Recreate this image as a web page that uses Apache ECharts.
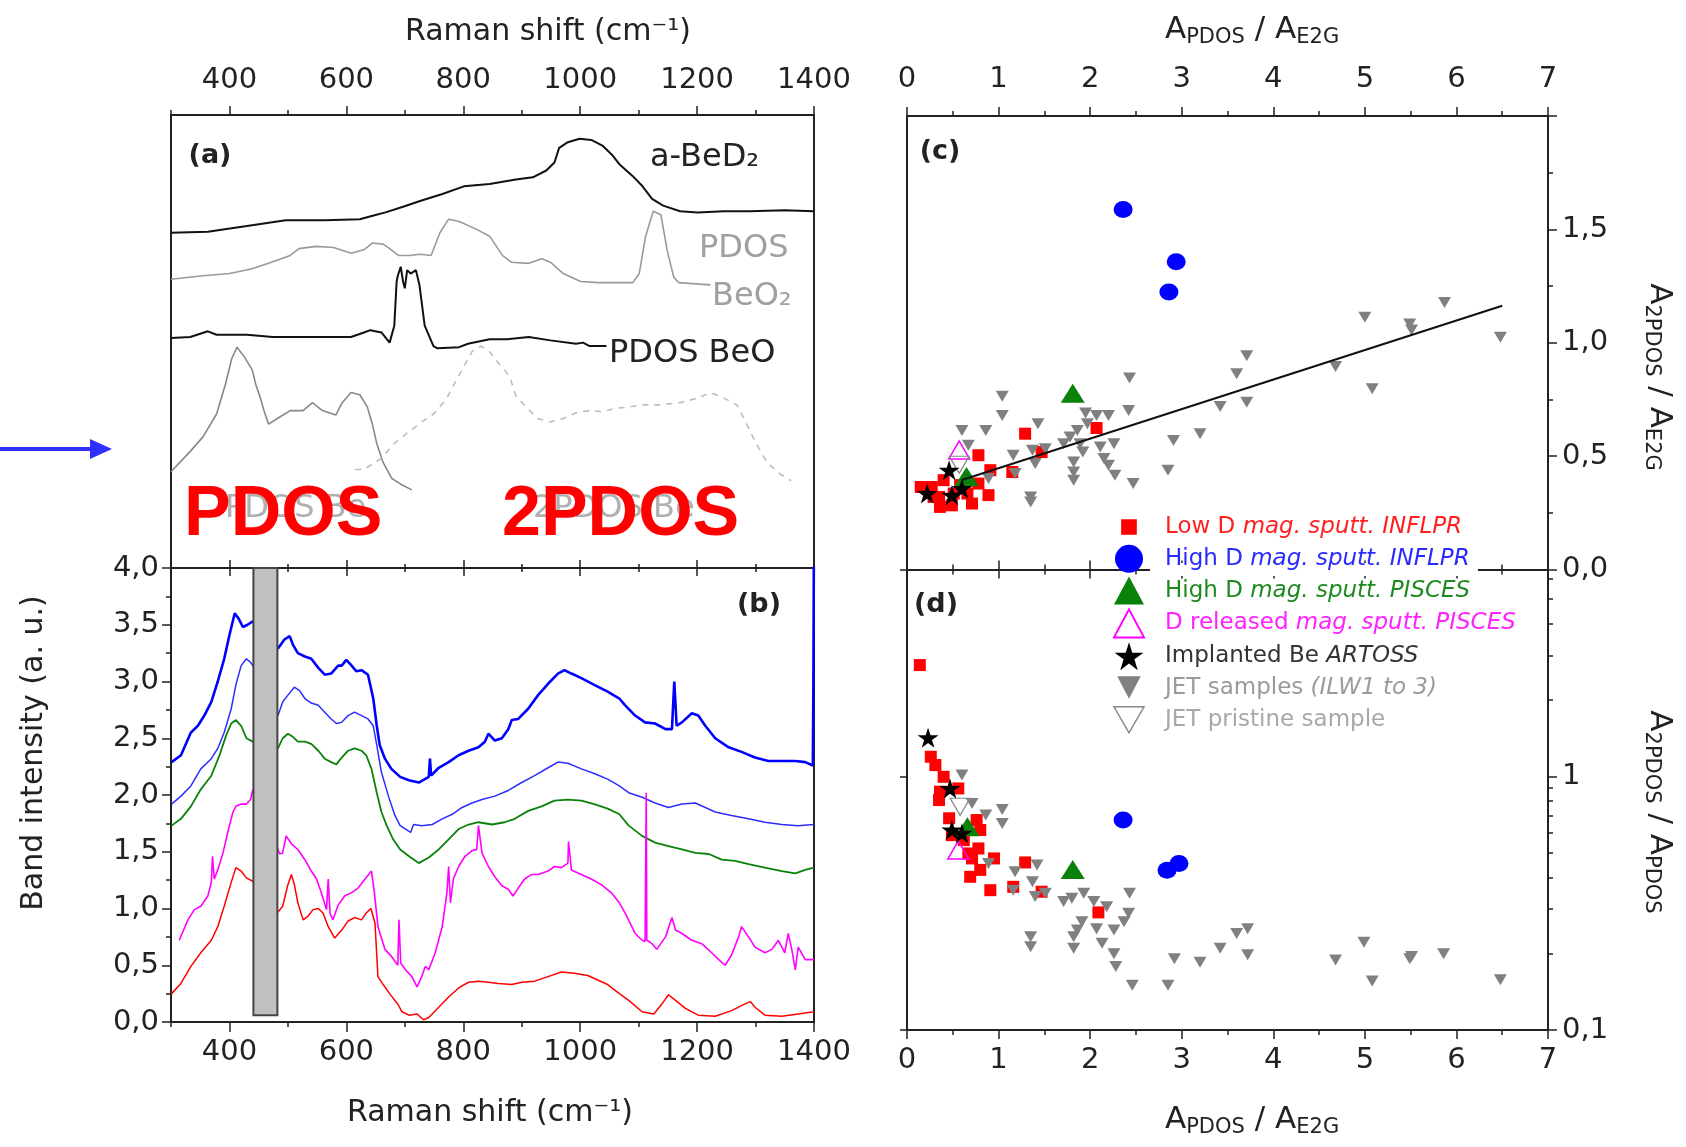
<!DOCTYPE html>
<html><head><meta charset="utf-8">
<script src="https://cdn.jsdelivr.net/npm/echarts@6/dist/echarts.min.js"></script>
<style>html,body{margin:0;padding:0;background:#fff}#c{width:1686px;height:1147px}</style>
</head><body><div id="c"></div>
<script>
// ---------- Panel (a): reference spectra (Raman shift, arbitrary offset intensity) ----------
const aBeD2X = [300,363,430,496,563,623,645,667,697,726,763,801,845,890,919,942,956,964,979,999,1019,1038,1056,1068,1090,1105,1123,1142,1171,1201,1246,1290,1350,1400];
const aBeD2Y = [2.96,2.97,3.02,3.07,3.07,3.08,3.11,3.14,3.19,3.24,3.30,3.37,3.39,3.43,3.45,3.51,3.58,3.71,3.76,3.79,3.78,3.73,3.64,3.56,3.46,3.38,3.26,3.20,3.15,3.14,3.15,3.15,3.16,3.15];
const pdosBeO2X = [300,355,400,437,467,504,519,548,578,608,630,645,663,674,689,708,726,745,760,775,793,823,845,867,882,912,934,949,971,1001,1031,1090,1101,1112,1125,1138,1149,1160,1168,1223];
const pdosBeO2Y = [2.55,2.58,2.60,2.64,2.69,2.76,2.82,2.84,2.83,2.78,2.81,2.87,2.86,2.82,2.76,2.76,2.77,2.76,2.96,3.08,3.06,2.99,2.93,2.76,2.70,2.69,2.73,2.70,2.60,2.53,2.52,2.52,2.60,2.93,3.15,3.12,2.80,2.57,2.52,2.50];
const pdosBeOX = [300,333,363,378,430,474,526,578,608,630,641,660,674,682,686,688,693,697,700,704,710,719,725,734,749,756,793,808,845,875,912,949,993,1005,1016,1045];
const pdosBeOY = [2.03,2.04,2.09,2.06,2.06,2.04,2.04,2.04,2.04,2.08,2.10,2.08,1.99,2.14,2.53,2.58,2.66,2.53,2.47,2.63,2.60,2.63,2.50,2.14,1.96,1.94,1.95,1.98,2.02,2.02,2.04,2.01,1.98,1.99,1.96,1.96];
const pdosBeX = [300,333,355,378,393,404,413,426,439,445,453,459,467,482,504,526,542,559,582,593,608,623,636,645,652,663,678,693,712];
const pdosBeY = [0.85,1.03,1.16,1.36,1.62,1.85,1.95,1.86,1.75,1.62,1.50,1.39,1.27,1.32,1.39,1.39,1.46,1.39,1.35,1.46,1.55,1.53,1.42,1.26,1.10,0.93,0.79,0.74,0.69];
const twoPdosX = [615,630,660,682,704,726,749,771,786,801,815,830,845,860,875,882,890,904,927,949,971,993,1016,1038,1060,1082,1105,1134,1171,1201,1223,1246,1268,1283,1301,1320,1342,1361];
const twoPdosY = [0.87,0.87,0.97,1.10,1.19,1.28,1.36,1.49,1.64,1.78,1.91,1.96,1.91,1.81,1.72,1.65,1.52,1.44,1.32,1.29,1.32,1.37,1.39,1.38,1.41,1.42,1.44,1.44,1.46,1.50,1.55,1.50,1.44,1.29,1.10,0.93,0.83,0.77];

// ---------- Panel (b): measured spectra ----------
const blue1X = [301,317,334,346,357,369,380,391,400,409,415,423,431,440,483,494,503,509,517,529,540,552,563,574,586,592,600,609,617,626,637,646,652,657,666,677,692,707,724,741,743,745,758,775,792,809,826,837,843,854,866,877,883,894,911,928,945,962,973,985,1002,1024,1047,1067,1077,1094,1111,1128,1146,1157,1161,1165,1174,1191,1202,1214,1231,1254,1276,1299,1322,1345,1368,1385,1398,1399,1400];
const blue1Y = [2.29,2.35,2.55,2.61,2.70,2.82,3.00,3.20,3.41,3.60,3.56,3.48,3.50,3.53,3.29,3.37,3.40,3.32,3.25,3.22,3.20,3.12,3.06,3.07,3.14,3.14,3.19,3.14,3.09,3.10,3.06,2.85,2.61,2.44,2.32,2.23,2.16,2.13,2.11,2.16,2.32,2.17,2.24,2.29,2.35,2.39,2.42,2.47,2.54,2.48,2.50,2.58,2.66,2.67,2.76,2.88,2.98,3.07,3.10,3.07,3.03,2.97,2.91,2.85,2.79,2.70,2.64,2.63,2.58,2.58,3.00,2.61,2.64,2.72,2.70,2.61,2.50,2.42,2.38,2.33,2.30,2.30,2.30,2.29,2.26,3.01,4.5];
const blue2X = [301,317,334,351,369,380,391,403,411,420,429,436,440,483,491,500,511,520,529,540,552,563,574,583,592,603,614,626,637,646,652,660,672,683,692,710,715,729,747,764,781,798,815,832,854,877,900,922,945,962,979,1002,1024,1047,1067,1083,1106,1128,1151,1174,1197,1214,1231,1259,1288,1316,1345,1373,1400];
const blue2Y = [1.92,1.99,2.08,2.23,2.32,2.41,2.55,2.76,2.97,3.14,3.20,3.17,3.14,2.70,2.82,2.88,2.95,2.92,2.85,2.81,2.79,2.73,2.67,2.63,2.64,2.70,2.73,2.70,2.67,2.61,2.44,2.20,1.99,1.82,1.73,1.67,1.74,1.73,1.74,1.79,1.83,1.89,1.93,1.96,1.99,2.04,2.11,2.17,2.24,2.29,2.28,2.23,2.19,2.14,2.08,2.02,1.98,1.93,1.89,1.92,1.93,1.89,1.85,1.82,1.79,1.76,1.74,1.73,1.74];
const greenX = [301,317,334,351,369,383,394,403,411,420,429,440,483,491,500,509,517,529,540,552,563,574,583,592,603,614,626,634,643,652,660,669,680,692,710,724,741,758,775,792,809,826,849,871,888,911,934,956,979,1002,1024,1047,1067,1083,1106,1128,1151,1174,1197,1220,1242,1265,1288,1316,1345,1368,1385,1400];
const greenY = [1.73,1.79,1.90,2.05,2.17,2.35,2.52,2.63,2.66,2.61,2.50,2.47,2.41,2.50,2.54,2.51,2.47,2.47,2.45,2.39,2.32,2.29,2.27,2.33,2.39,2.41,2.39,2.35,2.23,2.02,1.85,1.73,1.61,1.52,1.45,1.40,1.45,1.52,1.61,1.70,1.74,1.76,1.74,1.76,1.79,1.86,1.90,1.95,1.96,1.95,1.92,1.88,1.83,1.73,1.64,1.58,1.55,1.52,1.49,1.48,1.43,1.42,1.39,1.36,1.33,1.31,1.34,1.36];
const magX = [314,329,340,351,363,369,371,374,380,389,
397,406,411,420,429,436,440,486,491,497,
506,517,529,540,549,557,566,569,572,577,
586,597,609,620,632,643,648,654,666,677,
688,690,693,701,712,721,729,735,741,752,
764,772,775,778,783,792,803,815,823,826,
832,843,854,866,877,885,894,905,917,928,
945,956,968,979,980,985,1002,1019,1036,1053,
1067,1077,1094,1106,1111,1113,1114,1123,1131,1146,
1157,1163,1174,1191,1208,1225,1237,1248,1259,1271,
1276,1288,1299,1316,1328,1339,1350,1356,1362,1368,
1373,1385,1400];
const magY = [0.72,0.90,0.99,1.02,1.11,1.23,1.46,1.26,1.34,1.49,
1.67,1.85,1.90,1.92,1.92,1.96,2.05,1.48,1.49,1.64,
1.57,1.52,1.43,1.33,1.26,1.14,0.99,1.26,0.96,0.90,
1.03,1.11,1.14,1.18,1.26,1.33,1.14,0.84,0.64,0.58,
0.50,0.90,0.52,0.46,0.40,0.31,0.40,0.49,0.46,0.61,
0.84,1.14,1.37,1.05,1.26,1.37,1.46,1.51,1.52,1.73,
1.49,1.37,1.28,1.20,1.17,1.11,1.18,1.26,1.30,1.30,
1.33,1.37,1.36,1.40,1.59,1.34,1.30,1.26,1.21,1.14,
1.05,0.96,0.78,0.72,0.71,2.02,0.72,0.69,0.64,0.75,
0.92,0.81,0.78,0.72,0.69,0.61,0.55,0.50,0.59,0.75,
0.84,0.75,0.66,0.61,0.64,0.72,0.61,0.78,0.64,0.46,
0.66,0.55,0.55];
const redX = [301,317,334,351,369,380,391,403,411,420,
429,440,483,491,500,506,511,517,526,534,
543,552,560,569,580,592,603,614,626,634,
642,649,654,663,674,689,695,707,721,732,
741,758,775,792,809,826,843,860,883,900,
922,945,968,990,1013,1030,1047,1067,1083,1106,
1126,1140,1151,1163,1180,1202,1231,1259,1282,1291,
1299,1316,1345,1373,1400];
const redY = [0.25,0.34,0.49,0.61,0.72,0.84,1.02,1.23,1.36,1.33,
1.27,1.24,0.97,1.02,1.21,1.30,1.21,1.05,0.90,0.93,
0.99,1.00,0.96,0.84,0.74,0.81,0.89,0.92,0.90,0.96,
1.00,0.87,0.40,0.33,0.25,0.15,0.09,0.06,0.07,0.02,
0.04,0.13,0.22,0.30,0.35,0.36,0.35,0.34,0.33,0.35,
0.36,0.40,0.44,0.43,0.41,0.37,0.33,0.25,0.19,0.09,
0.07,0.16,0.24,0.19,0.12,0.06,0.05,0.10,0.16,0.18,
0.13,0.06,0.05,0.07,0.09];
const rectX = [441, 482];
const rectY = [0.06, 4.0];

// ---------- Panels (c) and (d): ratios ----------
const redCX = [0.15,0.27,0.35,0.36,0.49,0.71,0.66,0.78,0.89,0.51,0.40,0.29,0.58,0.78,0.91,1.15,1.29,1.47,2.07];
const redCY = [0.364,0.364,0.320,0.276,0.283,0.291,0.335,0.379,0.328,0.335,0.394,0.320,0.372,0.504,0.438,0.430,0.599,0.518,0.624];
const redDX = [0.14,0.26,0.31,0.40,0.36,0.35,0.46,0.56,0.76,0.80,0.78,0.71,0.80,0.69,0.95,0.91,1.29,1.16,1.47,2.09,0.49,0.62,0.67];
const redDY = [2.75,1.196,1.109,0.997,0.871,0.807,0.684,0.897,0.673,0.615,0.520,0.475,0.428,0.402,0.475,0.356,0.458,0.367,0.351,0.291,0.587,0.561,0.497];
const blueCX = [2.36,2.94,2.86];
const blueCY = [1.588,1.357,1.224];
const blueDX = [2.36,2.97,2.84];
const blueDY = [0.673,0.454,0.427];
const greenCX = [1.81,0.65];
const greenCY = [0.777,0.41];
const greenDX = [1.81,0.66];
const greenDY = [0.430,0.633];
const magCX = [0.57];
const magCY = [0.527];
const magDX = [0.56];
const magDY = [0.513];
const starCX = [0.22,0.46,0.49,0.60];
const starCY = [0.335,0.438,0.328,0.357];
const starDX = [0.23,0.47,0.49,0.60];
const starDY = [1.42,0.897,0.615,0.597];
const grayCX = [1.04,1.04,0.60,0.86,1.43,2.43,2.42,1.95,2.07,2.20,
1.97,1.86,1.78,1.71,1.89,0.67,1.16,1.37,1.51,2.26,
2.11,1.92,2.15,2.20,2.27,2.47,1.82,1.82,1.82,1.40,
1.18,0.89,1.35,1.35,2.91,3.20,2.85,3.42,3.60,3.71,
3.71,5.87,5.00,5.49,5.51,6.48,4.68,5.08];
const grayCY = [0.764,0.679,0.613,0.613,0.643,0.844,0.701,0.690,0.679,0.679,
0.643,0.613,0.584,0.555,0.555,0.548,0.504,0.526,0.533,0.555,
0.540,0.518,0.489,0.460,0.416,0.379,0.474,0.430,0.394,0.467,
0.423,0.401,0.320,0.298,0.569,0.599,0.438,0.719,0.863,0.943,
0.738,1.178,1.112,1.083,1.056,1.024,0.895,0.797];
const grayDX = [0.60,0.71,0.86,1.04,1.04,0.89,1.18,1.42,1.37,1.40,
1.16,1.51,1.71,1.80,1.93,2.04,2.18,2.43,2.42,1.91,
1.86,1.82,2.07,2.26,2.37,2.13,2.26,1.82,1.35,1.35,
3.60,3.42,2.28,2.46,2.85,2.92,3.20,3.72,3.72,4.68,
4.99,5.08,5.49,5.51,5.86,6.48];
const grayDY = [1.013,0.783,0.705,0.741,0.653,0.454,0.421,0.447,0.384,0.336,
0.356,0.346,0.321,0.331,0.346,0.321,0.306,0.346,0.289,0.267,
0.248,0.233,0.251,0.248,0.267,0.220,0.200,0.210,0.233,0.213,
0.240,0.210,0.178,0.150,0.150,0.191,0.185,0.251,0.198,0.189,
0.222,0.156,0.191,0.195,0.200,0.158];
const pristCX = [0.57];
const pristCY = [0.462];
const pristDX = [0.58];
const pristDY = [0.759];
const fitX = [0.6, 6.5];
const fitY = [0.395, 1.163];

// tick values
const ramanMajor = [400,600,800,1000,1200,1400];
const ramanMinor = [300,500,700,900,1100,1300];
const logMinor = [0.2,0.3,0.4,0.5,0.6,0.7,0.8,0.9,2,3,4,5,6];

// ---------- build ----------
const FONT = 'DejaVu Sans';
const AX = '#222';
const zip = (xs, ys) => xs.map((x, i) => [x, ys[i]]);
const comma = v => v.toFixed(1).replace('.', ',');
const plain = v => String(v);

function ramanAxis(grid, pos, vals, len, inside, label, line, margin) {
  return {type:'value', gridIndex:grid, position:pos, min:300, max:1400, interval:100,
    splitLine:{show:false},
    axisLine:{show:line, onZero:false, lineStyle:{color:AX, width:2}},
    axisTick:{show:true, inside:inside, length:len, customValues:vals, lineStyle:{color:AX, width:1.5}},
    axisLabel:{show:label, customValues:vals, margin:margin||8, fontSize:29, color:AX, fontFamily:FONT, formatter:plain}};
}
function ratioAxis(grid, pos, inside, label, margin) {
  return {type:'value', gridIndex:grid, position:pos, min:0, max:7, interval:1,
    splitLine:{show:false},
    axisLine:{show:true, onZero:false, lineStyle:{color:AX, width:2}},
    axisTick:{show:true, inside:inside, length:9, lineStyle:{color:AX, width:1.5}},
    minorTick:{show:true, splitNumber:2, length:5, lineStyle:{color:AX, width:1.5}},
    axisLabel:{show:label, margin:margin||8, fontSize:29, color:AX, fontFamily:FONT, formatter:plain}};
}
function frameY(grid, pos, min, max, type) {
  const o = {type:type||'value', gridIndex:grid, position:pos, min:min, max:max,
    splitLine:{show:false},
    axisLine:{show:true, onZero:false, lineStyle:{color:AX, width:2}},
    axisTick:{show:false}, axisLabel:{show:false}, minorTick:{show:false}};
  if (type === 'log') o.logBase = 10;
  return o;
}

const STAR = 'path://M50,2 L61,37 L98,37 L68,59 L79,95 L50,73 L21,95 L32,59 L2,37 L39,37 Z';
const INV = 'path://M0,0 L100,0 L50,87 Z';
const INV_PAD = 'path://M0,0 L0.1,0 Z M100,100 L100.1,100 Z M8,8 L92,8 L50,88 Z';
const SQ_PAD = 'path://M0,0 L0.1,0 Z M100,100 L100.1,100 Z M22,22 L78,22 L78,78 L22,78 Z';

const N = {
  low:'Low D mag. sputt. INFLPR', high:'High D mag. sputt. INFLPR', pis:'High D mag. sputt. PISCES',
  rel:'D released mag. sputt. PISCES', imp:'Implanted Be ARTOSS', jet:'JET samples (ILW1 to 3)', pri:'JET pristine sample'
};
const richLabel = {};
richLabel[N.low] = '{g| }{u|Low D }{i|mag. sputt. INFLPR}';
richLabel[N.high] = '{g| }{u|High D }{i|mag. sputt. INFLPR}';
richLabel[N.pis] = '{g| }{u|High D }{i|mag. sputt. PISCES}';
richLabel[N.rel] = '{g| }{u|D released }{i|mag. sputt. PISCES}';
richLabel[N.imp] = '{g| }{u|Implanted Be }{i|ARTOSS}';
richLabel[N.jet] = '{g| }{u|JET samples }{i|(ILW1 to 3)}';
richLabel[N.pri] = '{g| }{u|JET pristine sample}';
const legRich = {g:{width:16, fontSize:23}, u:{fontSize:23, fontFamily:FONT}, i:{fontSize:23, fontFamily:FONT, fontStyle:'italic'}};
function legItem(name, color, icon, itemStyle) {
  const o = {name:name, textStyle:{color:color, fontSize:23, fontFamily:FONT, lineHeight:28, rich:legRich}};
  if (icon) o.icon = icon;
  if (itemStyle) o.itemStyle = itemStyle;
  return o;
}

const styles = {
  low:{sym:'rect', size:12, it:{color:'#ff0000', opacity:1}},
  high:{sym:'circle', size:[19,17], it:{color:'#0000ff', opacity:1}},
  pis:{sym:'triangle', size:[24,19], it:{color:'#0a820a', opacity:1}},
  rel:{sym:'triangle', size:[21,18], it:{color:'rgba(255,255,255,0)', borderColor:'#ff00ff', borderWidth:1.5, opacity:1}},
  imp:{sym:STAR, size:[21,20], it:{color:'#000', opacity:1}},
  jet:{sym:INV, size:[13,11], it:{color:'#808080', opacity:1}},
  pri:{sym:INV, size:[20,17], it:{color:'rgba(255,255,255,0)', borderColor:'#888', borderWidth:1.2, opacity:1}}
};
function sc(key, xs, ys, xi, yi, z) {
  const s = styles[key];
  return {type:'scatter', name:N[key], xAxisIndex:xi, yAxisIndex:yi, data:zip(xs, ys),
    symbol:s.sym, symbolSize:s.size, itemStyle:s.it, z:z, silent:true};
}
function ln(name, xs, ys, xi, yi, color, w, type) {
  return {type:'line', name:name, xAxisIndex:xi, yAxisIndex:yi, data:zip(xs, ys), showSymbol:false,
    symbol:'none', lineStyle:{color:color, width:w, type:type||'solid'}, silent:true, z:2};
}

function txt(x, y, text, font, fill, align, extra) {
  const st = {text:text, x:0, y:0, font:font, fill:fill, align:align||'left', verticalAlign:'middle',
    textAlign:align||'left', textVerticalAlign:'middle'};
  const el = {type:'text', x:x, y:y, z:50, style:st, silent:true};
  if (extra) Object.assign(el, extra);
  return el;
}
const ttlRichC = {a:{fontSize:31, fontFamily:FONT, fill:AX, lineHeight:36},
                  s:{fontSize:21, fontFamily:FONT, fill:AX, lineHeight:20, padding:[16,0,0,0]}};
function richTxt(x, y, text, rot, align) {
  return {type:'text', x:x, y:y, rotation:rot||0, z:50, silent:true,
    style:{text:text, rich:ttlRichC, x:0, y:0, align:align||'left', verticalAlign:'middle',
      textAlign:align||'left', textVerticalAlign:'middle', fill:AX, fontSize:31, fontFamily:FONT}};
}

const option = {
  animation:false,
  backgroundColor:'#ffffff',
  textStyle:{fontFamily:FONT},
  grid:[
    {left:171, top:115, width:643, height:453},
    {left:171, top:568, width:643, height:454},
    {left:907, top:116, width:641, height:453.5},
    {left:907, top:569.5, width:641, height:460.5}
  ],
  xAxis:[
    ramanAxis(0,'top',ramanMajor,9,false,true,true,20),
    ramanAxis(0,'top',ramanMinor,5,false,false,false),
    ramanAxis(0,'bottom',ramanMajor,8,true,false,true),
    ramanAxis(0,'bottom',ramanMinor,4,true,false,false),
    ramanAxis(1,'top',ramanMajor,8,true,false,true),
    ramanAxis(1,'top',ramanMinor,4,true,false,false),
    ramanAxis(1,'bottom',ramanMajor,10,false,true,true,16),
    ramanAxis(1,'bottom',ramanMinor,5,false,false,false),
    ratioAxis(2,'top',false,true,22),
    ratioAxis(2,'bottom',true,false),
    ratioAxis(3,'top',true,false),
    ratioAxis(3,'bottom',false,true,16)
  ],
  yAxis:[
    frameY(0,'left',0,4),
    frameY(0,'right',0,4),
    {type:'value', gridIndex:1, position:'left', min:0, max:4, interval:0.5, splitLine:{show:false},
      axisLine:{show:true, onZero:false, lineStyle:{color:AX, width:2}},
      axisTick:{show:true, length:9, lineStyle:{color:AX, width:1.5}},
      minorTick:{show:true, splitNumber:2, length:5, lineStyle:{color:AX, width:1.5}},
      axisLabel:{margin:12, fontSize:29, color:AX, fontFamily:FONT, formatter:comma}},
    frameY(1,'right',0,4),
    frameY(2,'left',0,2),
    {type:'value', gridIndex:2, position:'right', min:0, max:2, interval:0.5, splitLine:{show:false},
      axisLine:{show:true, onZero:false, lineStyle:{color:AX, width:2}},
      axisTick:{show:true, length:9, lineStyle:{color:AX, width:1.5}},
      minorTick:{show:true, splitNumber:2, length:5, lineStyle:{color:AX, width:1.5}},
      axisLabel:{margin:14, fontSize:29, color:AX, fontFamily:FONT, formatter:v => v > 1.99 ? '' : comma(v)}},
    {type:'log', logBase:10, gridIndex:3, position:'left', min:0.1, max:6.55, splitLine:{show:false},
      axisLine:{show:true, onZero:false, lineStyle:{color:AX, width:2}},
      axisTick:{show:true, length:7, lineStyle:{color:AX, width:1.5}},
      axisLabel:{show:false}},
    {type:'log', logBase:10, gridIndex:3, position:'right', min:0.1, max:6.55, splitLine:{show:false},
      axisLine:{show:true, onZero:false, lineStyle:{color:AX, width:2}},
      axisTick:{show:true, length:9, lineStyle:{color:AX, width:1.5}},
      axisLabel:{margin:14, fontSize:29, color:AX, fontFamily:FONT,
        formatter:v => Math.abs(v - 1) < 1e-6 ? '1' : (Math.abs(v - 0.1) < 1e-6 ? '0,1' : '')}},
    {type:'log', logBase:10, gridIndex:3, position:'right', min:0.1, max:6.55, splitLine:{show:false},
      axisLine:{show:false, onZero:false},
      axisTick:{show:true, length:5, customValues:logMinor, lineStyle:{color:AX, width:1.5}},
      axisLabel:{show:false}}
  ],
  legend:{
    orient:'vertical', left:1108, top:508, itemWidth:30, itemHeight:28, itemGap:3.8, z:10,
    selectedMode:false,
    textStyle:{fontSize:23, fontFamily:FONT, lineHeight:28, rich:legRich},
    formatter:name => richLabel[name],
    data:[
      legItem(N.low, '#ff2020', SQ_PAD, {color:'#ff0000'}),
      legItem(N.high, '#2a2aff', null, {color:'#0000ff'}),
      legItem(N.pis, '#1f8a1f', null, {color:'#0a820a'}),
      legItem(N.rel, '#ff22ff', null, {color:'rgba(255,255,255,0)', borderColor:'#ff00ff', borderWidth:2}),
      legItem(N.imp, '#333333', null, {color:'#000'}),
      legItem(N.jet, '#9a9a9a', INV_PAD, {color:'#808080'}),
      legItem(N.pri, '#a8a8a8', INV, {color:'rgba(255,255,255,0)', borderColor:'#888', borderWidth:1.5})
    ]
  },
  graphic:{elements:[
    {type:'rect', z:3, silent:true, shape:{x:1150, y:563, width:328, height:13}, style:{fill:'#fff'}},
    {type:'line', z:50, silent:true, shape:{x1:0, y1:449, x2:94, y2:449}, style:{stroke:'#2f2fff', lineWidth:4}},
    {type:'polygon', z:50, silent:true, shape:{points:[[90,439],[112,449],[90,459]]}, style:{fill:'#2f2fff'}},
    txt(210, 156, '(a)', 'bold 27px "DejaVu Sans"', AX, 'center'),
    txt(759, 605, '(b)', 'bold 27px "DejaVu Sans"', AX, 'center'),
    txt(940, 152, '(c)', 'bold 27px "DejaVu Sans"', AX, 'center'),
    txt(936, 605, '(d)', 'bold 27px "DejaVu Sans"', AX, 'center'),
    txt(650, 158, 'a-BeD\u2082', '32px "DejaVu Sans"', '#222'),
    txt(699, 249, 'PDOS', '32px "DejaVu Sans"', '#a0a0a0'),
    txt(712, 297, 'BeO\u2082', '32px "DejaVu Sans"', '#a0a0a0'),
    txt(609, 354, 'PDOS BeO', '32px "DejaVu Sans"', '#222'),
    txt(225, 509, 'PDOS Be', '32px "DejaVu Sans"', '#b0b0b0', 'left', {z:60}),
    txt(533, 509, '2PDOS Be', '32px "DejaVu Sans"', '#b0b0b0', 'left', {z:60}),
    txt(184, 516, 'PDOS', 'bold 70px "Liberation Sans"', '#ff0000', 'left', {z:100}),
    txt(502, 516, '2PDOS', 'bold 70px "Liberation Sans"', '#ff0000', 'left', {z:100}),
    txt(548, 32, 'Raman shift (cm\u207B\u00B9)', '30px "DejaVu Sans"', AX, 'center'),
    txt(490, 1113, 'Raman shift (cm\u207B\u00B9)', '30px "DejaVu Sans"', AX, 'center'),
    txt(34, 753, 'Band intensity (a. u.)', '30px "DejaVu Sans"', AX, 'center', {rotation:Math.PI/2}),
    richTxt(1165, 30, '{a|A}{s|PDOS}{a| / A}{s|E2G}'),
    richTxt(1165, 1120, '{a|A}{s|PDOS}{a| / A}{s|E2G}'),
    richTxt(1659, 377, '{a|A}{s|2PDOS}{a| / A}{s|E2G}', -Math.PI/2, 'center'),
    richTxt(1659, 812, '{a|A}{s|2PDOS}{a| / A}{s|PDOS}', -Math.PI/2, 'center')
  ]},
  series:[
    ln('a-BeD2', aBeD2X, aBeD2Y, 0, 0, '#111', 2),
    ln('PDOS BeO2', pdosBeO2X, pdosBeO2Y, 0, 0, '#9a9a9a', 1.6),
    ln('PDOS BeO', pdosBeOX, pdosBeOY, 0, 0, '#111', 2),
    ln('PDOS Be', pdosBeX, pdosBeY, 0, 0, '#888', 1.6),
    ln('2PDOS Be', twoPdosX, twoPdosY, 0, 0, '#bdbdbd', 1.6, [6,6]),
    ln('s1', blue1X, blue1Y, 6, 2, '#0000ff', 2.6),
    ln('s2', blue2X, blue2Y, 6, 2, '#2d2dff', 1.5),
    ln('s3', greenX, greenY, 6, 2, '#0a820a', 1.8),
    ln('s4', magX, magY, 6, 2, '#ff00ff', 1.6),
    ln('s5', redX, redY, 6, 2, '#ff0000', 1.5),
    {type:'line', name:'band', xAxisIndex:6, yAxisIndex:2, data:[[rectX[0], rectY[0]]], symbol:'none',
      lineStyle:{opacity:0}, silent:true,
      markArea:{silent:true, z:10, itemStyle:{color:'#c0c0c0', borderColor:'#444', borderWidth:2},
        data:[[{coord:[rectX[0], rectY[0]]},{coord:[rectX[1], rectY[1]]}]]}},
    sc('low', redCX, redCY, 8, 5, 2),
    sc('jet', grayCX, grayCY, 8, 5, 3),
    sc('pis', greenCX, greenCY, 8, 5, 4),
    sc('high', blueCX, blueCY, 8, 5, 4),
    sc('rel', magCX, magCY, 8, 5, 5),
    sc('pri', pristCX, pristCY, 8, 5, 5),
    sc('imp', starCX, starCY, 8, 5, 6),
    {type:'line', name:'fit', xAxisIndex:8, yAxisIndex:5, data:zip(fitX, fitY), symbol:'none',
      lineStyle:{color:'#111', width:2}, silent:true, z:7},
    sc('low', redDX, redDY, 11, 7, 2),
    sc('jet', grayDX, grayDY, 11, 7, 3),
    sc('pis', greenDX, greenDY, 11, 7, 4),
    sc('high', blueDX, blueDY, 11, 7, 4),
    sc('rel', magDX, magDY, 11, 7, 5),
    sc('pri', pristDX, pristDY, 11, 7, 5),
    sc('imp', starDX, starDY, 11, 7, 6)
  ]
};
const chart = echarts.init(document.getElementById('c'), null, {renderer:'canvas'});
chart.setOption(option);
</script></body></html>
